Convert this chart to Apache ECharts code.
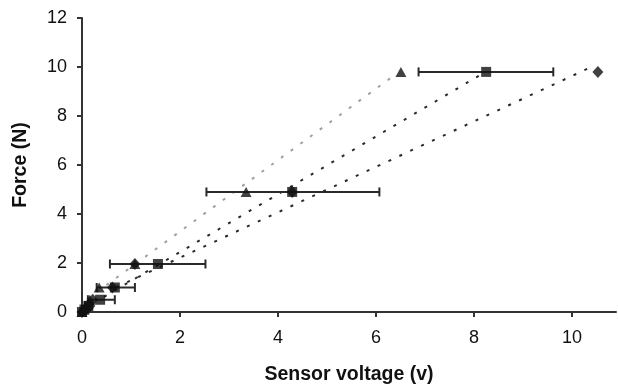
<!DOCTYPE html>
<html><head><meta charset="utf-8">
<script src="https://cdn.jsdelivr.net/npm/echarts@6/dist/echarts.min.js"></script>
<style>html,body{margin:0;padding:0;background:#fff}#c{width:618px;height:390px}</style>
</head><body><div id="c"></div>
<script>
// Force levels (N)
const forces = [0, 0.1, 0.25, 0.5, 1.0, 1.96, 4.9, 9.8];
// Sensor voltage for each series
const triangleV = [0, 0.03, 0.08, 0.16, 0.35, 1.08, 3.35, 6.51];
const squareV   = [0, 0.05, 0.13, 0.37, 0.67, 1.55, 4.29, 8.25];
const diamondV  = [0, 0.06, 0.16, 0.22, 0.62, 1.08, 4.29, 10.53];
// Square error bar extents (low, high)
const squareErrLow  = [0, 0.02, 0.06, 0.12, 0.30, 0.57, 2.54, 6.87];
const squareErrHigh = [0, 0.08, 0.20, 0.67, 1.08, 2.52, 6.07, 9.62];
// Dotted trend line endpoints [x, y]
const triangleFit = [[0.30, 0.81], [6.30, 9.55]];
const squareFit   = [[0.45, 0.62], [8.10, 9.64]];
const diamondFit  = [[0.70, 1.01], [10.45, 10.05]];

const pairs = (xs) => xs.map((x, i) => [x, forces[i]]);
const errData = forces.map((f, i) => [squareErrLow[i], squareErrHigh[i], f]);

const chart = echarts.init(document.getElementById('c'), null, {renderer: 'canvas'});
const axisCol = '#333';
const font = 'Liberation Sans';
chart.setOption({
  animation: false,
  grid: {left: 82, right: 2, top: 18, bottom: 77, containLabel: false},
  xAxis: {
    type: 'value', min: 0, max: 10.9, interval: 2,
    name: 'Sensor voltage (v)', nameLocation: 'middle', nameGap: 53,
    nameTextStyle: {fontFamily: font, fontWeight: 'bold', fontSize: 19.5, color: '#111'},
    axisLine: {lineStyle: {color: axisCol, width: 2}},
    axisTick: {show: true, inside: false, length: 5, lineStyle: {color: axisCol, width: 2}},
    axisLabel: {showMaxLabel: false, fontFamily: font, fontSize: 18, color: '#111', margin: 17},
    splitLine: {show: false}
  },
  yAxis: {
    type: 'value', min: 0, max: 12, interval: 2,
    name: 'Force (N)', nameLocation: 'middle', nameGap: 51,
    nameTextStyle: {fontFamily: font, fontWeight: 'bold', fontSize: 19.5, color: '#111'},
    axisLine: {show: true, lineStyle: {color: axisCol, width: 2}},
    axisTick: {show: true, inside: false, length: 5, lineStyle: {color: axisCol, width: 2}},
    axisLabel: {fontFamily: font, fontSize: 18, color: '#111', margin: 15},
    splitLine: {show: false}
  },
  series: [
    {type: 'line', data: triangleFit, symbol: 'none', silent: true,
     lineStyle: {color: '#a0a0a0', width: 2, type: [3, 9]}, z: 1},
    {type: 'line', data: squareFit, symbol: 'none', silent: true,
     lineStyle: {color: '#2a2a2a', width: 2, type: [3, 9]}, z: 1},
    {type: 'line', data: diamondFit, symbol: 'none', silent: true,
     lineStyle: {color: '#2a2a2a', width: 2, type: [3, 9]}, z: 1},
    {type: 'custom', data: errData, z: 2,
     renderItem: function (params, api) {
       const lo = api.coord([api.value(0), api.value(2)]);
       const hi = api.coord([api.value(1), api.value(2)]);
       if (hi[0] - lo[0] < 1) return null;
       const h = 4.5;
       const st = {stroke: '#2a2a2a', lineWidth: 2};
       return {type: 'group', children: [
         {type: 'line', shape: {x1: lo[0], y1: lo[1], x2: hi[0], y2: hi[1]}, style: st},
         {type: 'line', shape: {x1: lo[0], y1: lo[1] - h, x2: lo[0], y2: lo[1] + h}, style: st},
         {type: 'line', shape: {x1: hi[0], y1: hi[1] - h, x2: hi[0], y2: hi[1] + h}, style: st}
       ]};
     }},
    {type: 'scatter', data: pairs(diamondV), symbol: 'diamond', symbolSize: [11, 12],
     itemStyle: {color: '#111'}, z: 3},
    {type: 'scatter', data: pairs(squareV), symbol: 'rect', symbolSize: 10,
     itemStyle: {color: '#111'}, z: 4},
    {type: 'scatter', data: pairs(triangleV), symbol: 'triangle', symbolSize: [11, 10],
     itemStyle: {color: '#111'}, z: 5}
  ]
});
</script></body></html>
